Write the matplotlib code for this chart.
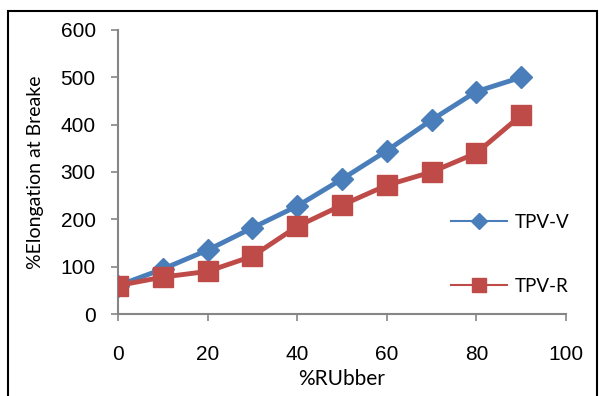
import matplotlib
matplotlib.use("Agg")
import matplotlib.pyplot as plt
from matplotlib.lines import Line2D
from matplotlib.patches import Rectangle

rubber = [0, 10, 20, 30, 40, 50, 60, 70, 80, 90]
tpv_v = [60, 95, 135, 182, 228, 285, 345, 410, 470, 500]
tpv_r = [60, 78, 90, 122, 185, 230, 272, 300, 340, 420]
xticks = [0, 20, 40, 60, 80, 100]
yticks = [0, 100, 200, 300, 400, 500, 600]

W, H = 599, 396
fig = plt.figure(figsize=(W / 100, H / 100), dpi=100)
fig.patch.set_facecolor("white")

# outer frame
fig.patches.append(Rectangle((8 / W, -0.05), (597 - 8) / W, (396 - 11) / H + 0.05,
                             transform=fig.transFigure, fill=False,
                             edgecolor="black", linewidth=1.5))

x0, x1, ytop, ybot = 118, 566, 30, 314
ax = fig.add_axes([x0 / W, (H - ybot) / H, (x1 - x0) / W, (ybot - ytop) / H])

blue = "#4A7EBB"
red = "#BE4B48"
ax.plot(rubber, tpv_v, color=blue, lw=3.5, marker="D", ms=11,
        markeredgecolor=blue, markerfacecolor=blue, zorder=3)
ax.plot(rubber, tpv_r, color=red, lw=3.5, marker="s", ms=14,
        markeredgecolor=red, markerfacecolor=red, zorder=4)

ax.set_xlim(0, 100)
ax.set_ylim(0, 600)
ax.set_xticks(xticks)
ax.set_yticks(yticks)
for s in ["top", "right"]:
    ax.spines[s].set_visible(False)
for s in ["left", "bottom"]:
    ax.spines[s].set_color("#868686")
    ax.spines[s].set_linewidth(1.5)
ax.tick_params(colors="#868686", width=1.2, length=5, labelcolor="black",
               labelsize=15)
for lab in ax.get_xticklabels() + ax.get_yticklabels():
    lab.set_family("Liberation Sans")
ax.tick_params(axis="x", pad=17)
ax.tick_params(axis="y", pad=11)

ax.set_xlabel("%RUbber", fontsize=15, family="Lato", labelpad=4)
ax.set_ylabel("%Elongation at Breake", fontsize=14, family="Lato", labelpad=12)

handles = [
    Line2D([], [], color=blue, lw=1.5, marker="D", ms=8, markerfacecolor=blue, markeredgecolor=blue),
    Line2D([], [], color=red, lw=1.5, marker="s", ms=10, markerfacecolor=red, markeredgecolor=red),
]
leg = fig.legend(handles, ["TPV-V", "TPV-R"], loc="upper left",
                 bbox_to_anchor=(434 / W, (H - 197) / H), frameon=False,
                 prop={"family": "Lato", "size": 13.5}, handlelength=3.0,
                 labelspacing=2.5, handletextpad=0.4, numpoints=1)

fig.savefig("out.png", dpi=100)
